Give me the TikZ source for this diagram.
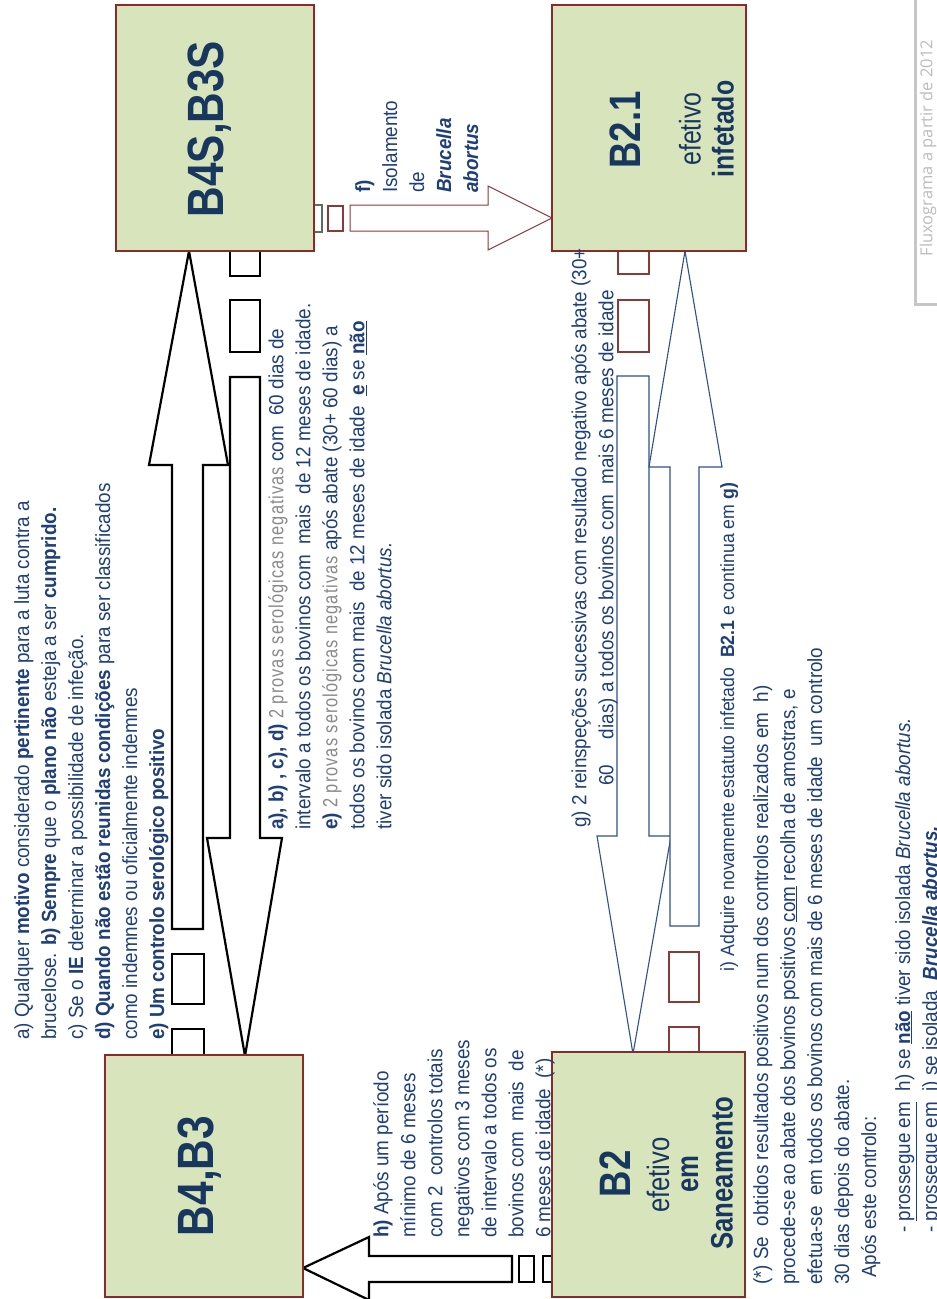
\documentclass[tikz,border=0pt]{standalone}
\usepackage{fontspec}
\setmainfont{Liberation Sans}[FakeStretch=0.83]
\newfontfamily\txtfont{Liberation Sans}[FakeStretch=0.92]
\newfontfamily\grayfont{Liberation Sans}[FakeStretch=0.80, LetterSpace=5]
\newfontfamily\wmfont{Open Sans}
\definecolor{boxfill}{HTML}{D8E4BC}
\definecolor{boxborder}{HTML}{8B2A2A}
\definecolor{textblue}{HTML}{1F3F7A}
\definecolor{labelblue}{HTML}{17375E}
\definecolor{txtgray}{HTML}{8A8A8A}
\definecolor{arrowbrown}{HTML}{8B3A3A}
\definecolor{arrowblue}{HTML}{2F5190}
\definecolor{greenish}{HTML}{5E6E5E}
\definecolor{wmgray}{HTML}{BDBDBD}
\newcommand\grt[1]{{\color{txtgray}\grayfont #1}}
\begin{document}
\begin{tikzpicture}[x=1pt,y=1pt,
  statebox/.style={draw=boxborder, fill=boxfill, line width=1.2pt, inner sep=0pt},
  blkarrow/.style={draw=black, line width=2.2pt, fill=white, line join=miter},
  tailbox/.style={draw=black, line width=2.2pt},
  brarrow/.style={draw=arrowbrown, line width=1pt, fill=white},
  brbox/.style={draw=arrowbrown, line width=1.2pt},
  bluarrow/.style={draw=arrowblue, line width=1.1pt, fill=white},
  txt/.style={rotate=90, inner sep=0pt, align=left, text=textblue, font=\txtfont\fontsize{20.5}{27}\selectfont},
  lbl/.style={rotate=90, inner sep=0pt, text=labelblue, align=center}]
\clip (0,0) rectangle (937,-1299);
\fill[white] (0,0) rectangle (937,-1299);

% left up arrow (to B4S,B3S)
\draw[blkarrow] (189,-251) -- (228,-465) -- (203,-465) -- (203,-929) -- (172,-929) -- (172,-465) -- (149,-465) -- cycle;
\draw[tailbox] (172,-954) rectangle (204,-1004);
\draw[tailbox] (172,-1055) -- (172,-1029) -- (204,-1029) -- (204,-1055);
% left down arrow (to B4,B3)
\draw[blkarrow] (245,-1056) -- (282,-838) -- (260,-838) -- (260,-377) -- (230,-377) -- (230,-838) -- (207,-838) -- cycle;
\draw[tailbox] (230,-251) -- (230,-276) -- (260,-276) -- (260,-251);
\draw[tailbox] (230,-300) rectangle (260,-352);
% f arrow
\draw[brarrow] (552,-218) -- (488,-186) -- (488,-205) -- (350,-205) -- (350,-231) -- (488,-231) -- (488,-250) -- cycle;
\draw[brbox] (328,-206) rectangle (343,-231);
\draw[draw=greenish, line width=1.2pt] (313,-205) rectangle (322,-232);
% g arrow
\draw[bluarrow] (633,-1054) -- (671,-836) -- (649,-836) -- (649,-376) -- (617,-376) -- (617,-836) -- (597,-836) -- cycle;
\draw[brbox] (618,-251) -- (618,-274) -- (649,-274) -- (649,-251);
\draw[brbox] (618,-300) rectangle (649,-352);
% i arrow
\draw[bluarrow] (685,-251) -- (722,-467) -- (699,-467) -- (699,-926) -- (670,-926) -- (670,-467) -- (649,-467) -- cycle;
\draw[brbox] (669,-952) rectangle (699,-1002);
\draw[brbox] (669,-1052) -- (669,-1027) -- (699,-1027) -- (699,-1052);
% h arrow
\draw[blkarrow] (303,-1268) -- (369,-1237) -- (369,-1256) -- (512,-1256) -- (512,-1282) -- (369,-1282) -- (369,-1300) -- cycle;
\draw[tailbox] (519,-1256) rectangle (534,-1282);
\draw[tailbox] (552,-1256) -- (543,-1256) -- (543,-1282) -- (552,-1282);

% boxes
\node[statebox, minimum width=198pt, minimum height=246pt] (b4s) at (215,-128) {};
\node[statebox, minimum width=194pt, minimum height=246pt] (b21) at (649,-128) {};
\node[statebox, minimum width=198pt, minimum height=242pt] (b4) at (204,-1176) {};
\node[statebox, minimum width=193pt, minimum height=245pt] (b2) at (648.5,-1174.5) {};

% box labels
\node[lbl, font=\bfseries\fontsize{51}{51}\selectfont] (lb4s) at (210,-129) {B4S,B3S};
\node[lbl, font=\bfseries\fontsize{44}{44}\selectfont] (lb21) at (625,-130) {B2.1};
\node[lbl, font=\fontsize{30}{30}\selectfont] (lb21a) at (690,-129) {efetivo};
\node[lbl, font=\bfseries\fontsize{30}{30}\selectfont] (lb21b) at (723,-129) {infetado};
\node[lbl, font=\bfseries\fontsize{51}{51}\selectfont] (lb4) at (200,-1176) {B4,B3};
\node[lbl, font=\bfseries\fontsize{44}{44}\selectfont] (lb2) at (615,-1174) {B2};
\node[lbl, font=\fontsize{31}{31}\selectfont] (lb2a) at (658,-1175) {efetivo};
\node[lbl, font=\bfseries\fontsize{31}{31}\selectfont] (lb2b) at (690,-1174) {em};
\node[lbl, font=\bfseries\fontsize{31}{31}\selectfont] (lb2c) at (722,-1173) {Saneamento};

% text blocks
\node[txt, anchor=north west] (t1) at (14,-1040) {a) Qualquer \textbf{motivo} considerado \textbf{pertinente} para a luta contra a\\
brucelose. \textbf{b) Sempre} que o \textbf{plano não} esteja a ser \textbf{cumprido.}\\
c) Se o \textbf{IE} determinar a possibilidade de infeção.\\
\textbf{d) Quando não estão reunidas condições} para ser classificados\\
como indemnes ou oficialmente indemnes\\
\textbf{e) Um controlo serológico positivo}};

\node[txt, anchor=north west] (t2) at (268,-830) {\textbf{a), b) , c), d)} \grt{2 provas serológicas negativas} com \ 60 dias de\\
intervalo a todos os bovinos com \ mais \ de 12 meses de idade.\\
\textbf{e)} \grt{2 provas serológicas negativas} após abate (30+ 60 dias) a\\
todos os bovinos com mais \ de 12 meses de idade \ \underline{\textbf{e}} se \underline{\textbf{não}}\\
tiver sido isolada \textit{Brucella abortus.}};

\node[txt, anchor=north west] (tf) at (355,-193) {\textbf{f)}\\ Isolamento\\ de\\ \textbf{\textit{Brucella}}\\ \textbf{\textit{abortus}}};

\node[txt, align=center, anchor=north] (tg) at (571,-538) {g) 2 reinspeções sucessivas com resultado negativo após abate (30+\\
60 \quad dias) a todos os bovinos com \ mais 6 meses de idade};

\node[txt, anchor=north, font=\txtfont\fontsize{19.2}{27}\selectfont] (ti) at (720,-727) {i) Adquire novamente estatuto infetado \ \textbf{B2.1} e continua em \textbf{g)}};

\node[txt, anchor=north west] (th) at (373,-1238) {\textbf{h)} Após um período\\
mínimo de 6 meses\\
com 2 \ controlos totais\\
negativos com 3 meses\\
de intervalo a todos os\\
bovinos com \ mais \ de\\
6 meses de idade \ (*)};

\node[txt, anchor=north west] (ts1) at (753,-1285) {(*) Se \ obtidos resultados positivos num dos controlos realizados em \ h)\\
procede-se ao abate dos bovinos positivos \underline{com} recolha de amostras, e\\
efetua-se \ em todos os bovinos com mais de 6 meses de idade \ um controlo\\
30 dias depois do abate.\\
\hspace{7pt}Após este controlo:};

\node[txt, anchor=north west] (ts2) at (895,-1233) {- \underline{prossegue em} \ h) se \underline{\textbf{não}} tiver sido isolada \textit{Brucella abortus.}\\
- \underline{prossegue em} \ i) se isolada \ \textbf{\textit{Brucella abortus.}}};

% watermark
\draw[line width=3pt, draw=gray!45] (950,-304) -- (915,-304) -- (915,5);
\node[rotate=90, inner sep=0pt, text=wmgray, font=\wmfont\fontsize{16.5}{16.5}\selectfont] (wm) at (928,-148) {Fluxograma a partir de 2012};
\end{tikzpicture}
\end{document}
